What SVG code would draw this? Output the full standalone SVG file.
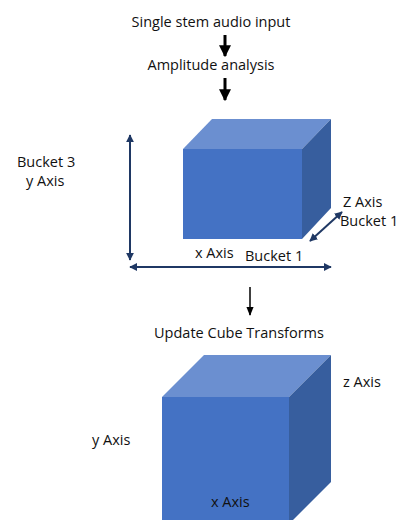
<svg xmlns="http://www.w3.org/2000/svg" width="400" height="520" viewBox="0 0 400 520">
<style>
text{font-family:"Open Sans","Liberation Sans",sans-serif;font-size:14.5px;fill:#111}
.front{fill:#4472C4}
.top{fill:#6B8FD0}
.side{fill:#375E9E}
.nav{stroke:#1F3864;stroke-width:2;fill:none}
.blk{stroke:#000;fill:none}
</style>
<defs>
<marker id="nh" viewBox="0 0 10 10" refX="9" refY="5" markerWidth="4" markerHeight="4" orient="auto-start-reverse"><path d="M0,0 L10,5 L0,10 Z" fill="#1F3864"/></marker>
<marker id="bh" viewBox="0 0 10 10" refX="9" refY="5" markerWidth="4" markerHeight="4" orient="auto"><path d="M0,0 L10,5 L0,10 Z" fill="#000"/></marker>
<marker id="th" viewBox="0 0 10 10" refX="9" refY="5" markerWidth="6" markerHeight="6" orient="auto"><path d="M0,1 L10,5 L0,9 Z" fill="#000"/></marker>
</defs>
<g id="label-input"><text x="211" y="27" text-anchor="middle">Single stem audio input</text></g>
<g id="label-amplitude"><text x="211" y="70" text-anchor="middle">Amplitude analysis</text></g>
<g id="cube1">
<polygon class="top" points="183,149 212,119 331,119 302,149"/>
<polygon class="side" points="302,149 331,119 331,208 302,239"/>
<rect class="front" x="183" y="149" width="119" height="90"/>
</g>
<g id="labels1">
<text x="17" y="167">Bucket 3</text>
<text x="26" y="186">y Axis</text>
<text x="343" y="207">Z Axis</text>
<text x="340" y="226">Bucket 1</text>
<text x="195" y="258">x Axis</text>
<text x="245" y="261">Bucket 1</text>
</g>
<g id="label-update"><text x="239" y="338" text-anchor="middle">Update Cube Transforms</text></g>
<g id="cube2">
<polygon class="top" points="162,397 204,355 331,355 289,397"/>
<polygon class="side" points="289,397 331,355 331,482 289,524"/>
<rect class="front" x="162" y="397" width="127" height="127"/>
</g>
<g id="labels2">
<text x="343" y="387">z Axis</text>
<text x="92" y="445">y Axis</text>
<text x="211" y="507">x Axis</text>
</g>
<g id="connectors">
<line class="blk" x1="225" y1="35" x2="225" y2="56" stroke-width="3" marker-end="url(#bh)"/>
<line class="blk" x1="225" y1="78" x2="225" y2="100" stroke-width="3" marker-end="url(#bh)"/>
<line class="nav" x1="130" y1="135" x2="130" y2="260" marker-start="url(#nh)" marker-end="url(#nh)"/>
<line class="nav" x1="130" y1="267" x2="331" y2="267" marker-start="url(#nh)" marker-end="url(#nh)"/>
<line class="nav" x1="310" y1="241" x2="342" y2="212" marker-start="url(#nh)" marker-end="url(#nh)"/>
<line class="blk" x1="250" y1="287" x2="250" y2="315" stroke-width="1.5" marker-end="url(#th)"/>
</g>
</svg>
